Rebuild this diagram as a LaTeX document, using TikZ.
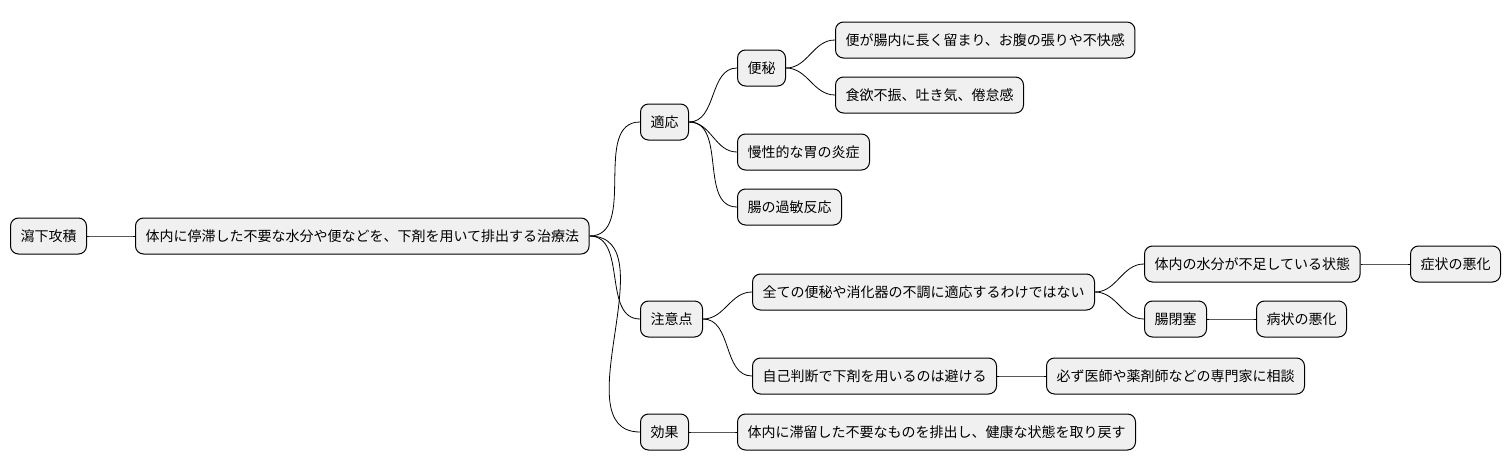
\documentclass[tikz,border=0pt]{standalone}
\usepackage{fontspec}
\setmainfont{Noto Sans CJK JP}
\usetikzlibrary{positioning}

\tikzset{
  topic/.style={draw, fill=black!6, rounded corners=6pt, line width=0.75pt,
    anchor=west, minimum height=27pt, inner xsep=7.5pt, inner ysep=0pt,
    font=\fontsize{10.5pt}{13pt}\selectfont},
  branch/.style={line width=0.6pt, out=0, in=180}
}

\begin{document}
\begin{tikzpicture}[x=0.75pt, y=-0.75pt]
    \useasboundingbox (0,0) rectangle (1510,471);
    % root and its definition
    \node[topic] (root) at (10,236) {瀉下攻積};
    \node[topic] (main) at (135,236) {体内に停滞した不要な水分や便などを、下剤を用いて排出する治療法};
    % first level
    \node[topic] (tekiou) at (640,122) {適応};
    \node[topic] (chuui) at (640,319) {注意点};
    \node[topic] (kouka) at (640,432) {効果};
    % indications
    \node[topic] (benpi) at (737,68) {便秘};
    \node[topic] (benpiA) at (835,40) {便が腸内に長く留まり、お腹の張りや不快感};
    \node[topic] (benpiB) at (835,95) {食欲不振、吐き気、倦怠感};
    \node[topic] (ien) at (737,152) {慢性的な胃の炎症};
    \node[topic] (kabin) at (737,207) {腸の過敏反応};
    % cautions
    \node[topic] (subete) at (752,292) {全ての便秘や消化器の不調に適応するわけではない};
    \node[topic] (suibun) at (1144,264) {体内の水分が不足している状態};
    \node[topic] (akkaA) at (1410,264) {症状の悪化};
    \node[topic] (heisoku) at (1144,319) {腸閉塞};
    \node[topic] (akkaB) at (1256,319) {病状の悪化};
    \node[topic] (jiko) at (752,376) {自己判断で下剤を用いるのは避ける};
    \node[topic] (soudan) at (1046,376) {必ず医師や薬剤師などの専門家に相談};
    % effect
    \node[topic] (koukaA) at (737,432) {体内に滞留した不要なものを排出し、健康な状態を取り戻す};

    \draw[branch] (root.east) to (main.west);
    \draw[branch] (main.east) to (tekiou.west);
    \draw[branch] (main.east) to (chuui.west);
    \draw[branch] (main.east) to (kouka.west);
    \draw[branch] (tekiou.east) to (benpi.west);
    \draw[branch] (tekiou.east) to (ien.west);
    \draw[branch] (tekiou.east) to (kabin.west);
    \draw[branch] (benpi.east) to (benpiA.west);
    \draw[branch] (benpi.east) to (benpiB.west);
    \draw[branch] (chuui.east) to (subete.west);
    \draw[branch] (chuui.east) to (jiko.west);
    \draw[branch] (subete.east) to (suibun.west);
    \draw[branch] (subete.east) to (heisoku.west);
    \draw[branch] (suibun.east) to (akkaA.west);
    \draw[branch] (heisoku.east) to (akkaB.west);
    \draw[branch] (jiko.east) to (soudan.west);
    \draw[branch] (kouka.east) to (koukaA.west);
\end{tikzpicture}
\end{document}
